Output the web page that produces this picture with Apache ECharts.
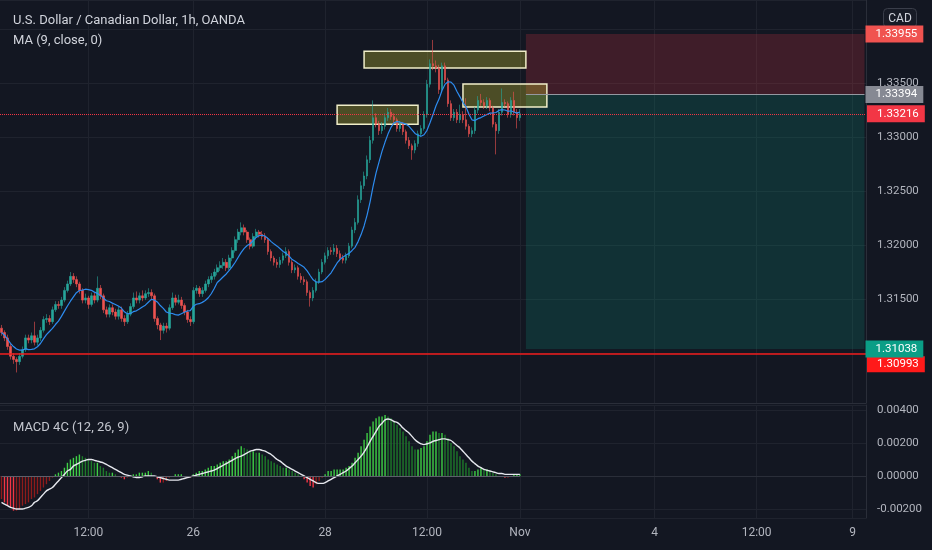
<!DOCTYPE html>
<html><head><meta charset="utf-8">
<script src="https://cdn.jsdelivr.net/npm/echarts@6/dist/echarts.min.js"></script>
<style>html,body{margin:0;padding:0;background:#131722;}#c{width:932px;height:550px;}</style>
</head><body><div id="c"></div>
<script>
// ---- data (hourly bars, USD/CAD) ----
const totalBars = 289;
const timeLabelBars = [29, 64, 108, 142, 173, 218, 252, 284];
const timeLabelTexts = ['12:00', '26', '28', '12:00', 'Nov', '4', '12:00', '9'];

const openP = [
1.3123,1.3119,1.3114,1.3106,1.3097,1.3094,1.3092,1.3097,1.3103,1.3114,
1.3112,1.3116,1.3110,1.3114,1.3121,1.3131,1.3132,1.3129,1.3140,1.3145,
1.3144,1.3149,1.3158,1.3164,1.3171,1.3168,1.3164,1.3158,1.3149,1.3151,
1.3145,1.3153,1.3149,1.3160,1.3153,1.3140,1.3136,1.3142,1.3138,1.3134,
1.3140,1.3132,1.3129,1.3136,1.3143,1.3151,1.3149,1.3153,1.3151,1.3155,
1.3156,1.3153,1.3132,1.3126,1.3121,1.3125,1.3123,1.3142,1.3151,1.3147,
1.3149,1.3144,1.3138,1.3131,1.3129,1.3158,1.3160,1.3155,1.3158,1.3164,
1.3168,1.3171,1.3175,1.3179,1.3181,1.3184,1.3179,1.3188,1.3195,1.3205,
1.3212,1.3216,1.3212,1.3205,1.3199,1.3208,1.3212,1.3210,1.3208,1.3205,
1.3194,1.3188,1.3184,1.3182,1.3186,1.3190,1.3194,1.3184,1.3177,1.3179,
1.3171,1.3168,1.3166,1.3156,1.3151,1.3158,1.3166,1.3175,1.3184,1.3190,
1.3195,1.3194,1.3197,1.3192,1.3188,1.3186,1.3190,1.3199,1.3214,1.3221,
1.3242,1.3255,1.3264,1.3279,1.3297,1.3318,1.3312,1.3306,1.3310,1.3318,
1.3323,1.3319,1.3316,1.3308,1.3312,1.3305,1.3297,1.3292,1.3288,1.3294,
1.3303,1.3308,1.3321,1.3349,1.3368,1.3366,1.3364,1.3344,1.3366,1.3353,
1.3331,1.3318,1.3323,1.3316,1.3321,1.3316,1.3310,1.3303,1.3306,1.3325,
1.3334,1.3332,1.3329,1.3334,1.3327,1.3312,1.3306,1.3323,1.3332,1.3331,
1.3321,1.3334,1.3323,1.3318];

const closeP = [
1.3119,1.3114,1.3106,1.3097,1.3094,1.3092,1.3097,1.3103,1.3114,1.3112,
1.3116,1.3110,1.3114,1.3121,1.3131,1.3132,1.3129,1.3140,1.3145,1.3144,
1.3149,1.3158,1.3164,1.3171,1.3168,1.3164,1.3158,1.3149,1.3151,1.3145,
1.3153,1.3149,1.3160,1.3153,1.3140,1.3136,1.3142,1.3138,1.3134,1.3140,
1.3132,1.3129,1.3136,1.3143,1.3151,1.3149,1.3153,1.3151,1.3155,1.3156,
1.3153,1.3132,1.3126,1.3121,1.3125,1.3123,1.3142,1.3151,1.3147,1.3149,
1.3144,1.3138,1.3131,1.3129,1.3158,1.3160,1.3155,1.3158,1.3164,1.3168,
1.3171,1.3175,1.3179,1.3181,1.3184,1.3179,1.3188,1.3195,1.3205,1.3212,
1.3216,1.3212,1.3205,1.3199,1.3208,1.3212,1.3210,1.3208,1.3205,1.3194,
1.3188,1.3184,1.3182,1.3186,1.3190,1.3194,1.3184,1.3177,1.3179,1.3171,
1.3168,1.3166,1.3156,1.3151,1.3158,1.3166,1.3175,1.3184,1.3190,1.3195,
1.3194,1.3197,1.3192,1.3188,1.3186,1.3190,1.3199,1.3214,1.3221,1.3242,
1.3255,1.3264,1.3279,1.3297,1.3318,1.3312,1.3306,1.3310,1.3318,1.3323,
1.3319,1.3316,1.3308,1.3312,1.3305,1.3297,1.3292,1.3288,1.3294,1.3303,
1.3308,1.3321,1.3349,1.3368,1.3366,1.3364,1.3344,1.3366,1.3353,1.3331,
1.3318,1.3323,1.3316,1.3321,1.3316,1.3310,1.3303,1.3306,1.3325,1.3334,
1.3332,1.3329,1.3334,1.3327,1.3312,1.3306,1.3323,1.3332,1.3331,1.3321,
1.3334,1.3323,1.3318,1.33216];

const highP = [
1.3126,1.3121,1.3117,1.3109,1.3100,1.3096,1.3100,1.3106,1.3117,1.3117,
1.3119,1.3129,1.3117,1.3124,1.3134,1.3136,1.3135,1.3143,1.3148,1.3148,
1.3152,1.3161,1.3167,1.3175,1.3174,1.3171,1.3166,1.3160,1.3155,1.3153,
1.3156,1.3156,1.3171,1.3163,1.3155,1.3143,1.3145,1.3145,1.3141,1.3143,
1.3143,1.3135,1.3139,1.3146,1.3156,1.3157,1.3156,1.3158,1.3158,1.3160,
1.3159,1.3155,1.3134,1.3128,1.3128,1.3128,1.3145,1.3156,1.3154,1.3154,
1.3152,1.3146,1.3140,1.3134,1.3161,1.3163,1.3162,1.3161,1.3167,1.3171,
1.3174,1.3178,1.3182,1.3185,1.3188,1.3187,1.3191,1.3198,1.3208,1.3215,
1.3221,1.3219,1.3214,1.3207,1.3211,1.3215,1.3214,1.3213,1.3211,1.3207,
1.3196,1.3190,1.3187,1.3189,1.3193,1.3198,1.3196,1.3186,1.3182,1.3181,
1.3174,1.3171,1.3168,1.3158,1.3161,1.3169,1.3178,1.3187,1.3193,1.3198,
1.3198,1.3201,1.3200,1.3195,1.3191,1.3193,1.3202,1.3217,1.3225,1.3246,
1.3259,1.3268,1.3283,1.3301,1.3334,1.3322,1.3315,1.3314,1.3322,1.3327,
1.3326,1.3322,1.3318,1.3315,1.3314,1.3307,1.3300,1.3294,1.3297,1.3306,
1.3311,1.3324,1.3353,1.3372,1.3390,1.3371,1.3367,1.3369,1.3369,1.3355,
1.3334,1.3326,1.3326,1.3330,1.3324,1.3336,1.3312,1.3309,1.3328,1.3338,
1.3340,1.3335,1.3337,1.3336,1.3329,1.3314,1.3326,1.3345,1.3335,1.3333,
1.3337,1.3342,1.3326,1.3326];

const lowP = [
1.3116,1.3111,1.3103,1.3094,1.3090,1.3082,1.3089,1.3095,1.3101,1.3109,
1.3109,1.3107,1.3107,1.3111,1.3119,1.3128,1.3126,1.3127,1.3138,1.3141,
1.3141,1.3147,1.3156,1.3162,1.3165,1.3161,1.3155,1.3146,1.3146,1.3141,
1.3143,1.3146,1.3147,1.3150,1.3137,1.3133,1.3133,1.3135,1.3131,1.3131,
1.3129,1.3125,1.3127,1.3134,1.3141,1.3146,1.3146,1.3148,1.3149,1.3152,
1.3150,1.3129,1.3122,1.3112,1.3118,1.3119,1.3121,1.3140,1.3144,1.3145,
1.3141,1.3135,1.3128,1.3125,1.3127,1.3155,1.3152,1.3152,1.3156,1.3161,
1.3165,1.3168,1.3172,1.3176,1.3178,1.3176,1.3177,1.3185,1.3193,1.3202,
1.3209,1.3209,1.3202,1.3196,1.3197,1.3205,1.3207,1.3205,1.3202,1.3191,
1.3185,1.3181,1.3179,1.3179,1.3183,1.3188,1.3181,1.3174,1.3174,1.3168,
1.3165,1.3163,1.3153,1.3143,1.3148,1.3156,1.3164,1.3173,1.3182,1.3187,
1.3191,1.3191,1.3189,1.3185,1.3183,1.3183,1.3188,1.3197,1.3211,1.3219,
1.3239,1.3252,1.3261,1.3276,1.3294,1.3309,1.3302,1.3303,1.3307,1.3315,
1.3316,1.3313,1.3305,1.3305,1.3302,1.3294,1.3289,1.3279,1.3285,1.3291,
1.3300,1.3306,1.3318,1.3346,1.3362,1.3360,1.3340,1.3341,1.3350,1.3328,
1.3315,1.3315,1.3313,1.3313,1.3313,1.3307,1.3300,1.3300,1.3303,1.3322,
1.3329,1.3326,1.3326,1.3324,1.3309,1.3284,1.3303,1.3320,1.3328,1.3318,
1.3318,1.3320,1.3308,1.3315];

const macdHist = [
-0.0014,-0.0016,-0.0018,-0.0019,-0.0021,-0.0021,-0.0020,-0.0018,-0.0017,-0.0016,
-0.0014,-0.0013,-0.0011,-0.0009,-0.0007,-0.0005,-0.0003,-0.0001,0.0001,0.0002,
0.0003,0.0005,0.0008,0.0010,0.0011,0.0012,0.0013,0.0012,0.0011,0.0010,
0.0009,0.0008,0.0008,0.0006,0.0005,0.0003,0.0002,0.0002,0.0001,0.0000,
-0.0001,-0.0002,-0.0001,0.0000,0.0001,0.0001,0.0002,0.0002,0.0002,0.0003,
0.0002,0.0000,-0.0002,-0.0004,-0.0004,-0.0003,-0.0001,0.0000,0.0001,0.0001,
0.0001,0.0000,-0.0001,-0.0001,0.0001,0.0002,0.0003,0.0003,0.0004,0.0005,
0.0006,0.0006,0.0007,0.0008,0.0009,0.0009,0.0010,0.0012,0.0014,0.0016,
0.0018,0.0017,0.0016,0.0015,0.0015,0.0014,0.0014,0.0013,0.0012,0.0010,
0.0009,0.0008,0.0007,0.0006,0.0005,0.0005,0.0004,0.0003,0.0002,0.0001,
0.0000,-0.0002,-0.0004,-0.0006,-0.0007,-0.0005,-0.0003,-0.0001,0.0001,0.0003,
0.0003,0.0004,0.0004,0.0004,0.0004,0.0005,0.0006,0.0008,0.0011,0.0014,
0.0018,0.0022,0.0026,0.0030,0.0033,0.0035,0.0036,0.0036,0.0037,0.0036,
0.0035,0.0033,0.0031,0.0029,0.0027,0.0024,0.0021,0.0018,0.0016,0.0016,
0.0017,0.0018,0.0021,0.0025,0.0027,0.0027,0.0026,0.0026,0.0025,0.0023,
0.0020,0.0018,0.0015,0.0012,0.0010,0.0008,0.0005,0.0003,0.0003,0.0004,
0.0005,0.0004,0.0004,0.0003,0.0002,0.0001,0.0000,0.0000,-0.0001,-0.0001,
0.0000,0.0001,0.0001,0.0001];

const macdSignal = [
-0.0016,-0.0017,-0.0018,-0.0019,-0.00195,-0.0020,-0.0020,-0.0020,-0.00195,-0.0019,
-0.0018,-0.0016,-0.0015,-0.0013,-0.0011,-0.0009,-0.0008,-0.0007,-0.0005,-0.0003,
-0.0001,0.0001,0.0003,0.0004,0.0006,0.0007,0.0008,0.0009,0.00095,0.0010,
0.0010,0.00095,0.0009,0.00085,0.0008,0.0007,0.0006,0.0005,0.0004,0.0003,
0.0002,0.0001,0.00005,0.0000,-0.00005,-0.0001,-0.0001,-0.00005,0.0000,0.0000,
0.0000,0.0000,-0.00005,-0.0001,-0.00015,-0.0002,-0.00025,-0.00025,-0.00025,-0.00025,
-0.0002,-0.00015,-0.0001,-0.00005,0.0000,0.00005,0.0001,0.00015,0.0002,0.00025,
0.0003,0.00035,0.00045,0.00055,0.00065,0.00075,0.00085,0.00095,0.00105,0.00115,
0.0012,0.0013,0.0014,0.0015,0.00155,0.0016,0.0016,0.00155,0.0015,0.0014,
0.0013,0.00115,0.0010,0.0009,0.00075,0.0006,0.0005,0.0004,0.0003,0.0002,
0.0001,0.0000,-0.0001,-0.0002,-0.0003,-0.0004,-0.00045,-0.00045,-0.0004,-0.0003,
-0.0002,-0.0001,0.0000,0.0001,0.0002,0.0003,0.00045,0.0006,0.0008,0.0010,
0.0012,0.00145,0.00175,0.0021,0.0024,0.0027,0.0030,0.0032,0.0034,0.00345,
0.0034,0.0033,0.00325,0.0031,0.0029,0.00275,0.0026,0.0024,0.0022,0.00205,
0.00195,0.0019,0.00195,0.0020,0.0021,0.00215,0.0022,0.00225,0.00225,0.0022,
0.00215,0.0020,0.00185,0.0017,0.0015,0.0013,0.0011,0.0009,0.00075,0.0006,
0.0005,0.0004,0.00035,0.0003,0.00025,0.0002,0.00015,0.00015,0.0001,0.0001,
0.0001,0.0001,0.0001,0.0001];

// price levels / drawings
const stopPrice = 1.33955;
const entryPrice = 1.33394;
const lastPrice = 1.33216;
const targetPrice = 1.31038;
const supportPrice = 1.30993;
const positionStartBar = 175;
const boxStartBars = [112, 121, 154];
const boxEndBars   = [139, 175, 182];
const boxTops      = [1.33296, 1.33796, 1.33491];
const boxBottoms   = [1.33120, 1.33639, 1.33278];

// ---- build ----
const lastBar = totalBars - 1;
const cats = Array.from({length: totalBars}, (_, i) => {
  const k = timeLabelBars.indexOf(i);
  return k >= 0 ? timeLabelTexts[k] : '';
});
const ohlc = closeP.map((c, i) => [openP[i], c, lowP[i], highP[i]]);
const ma9 = closeP.map((_, i) => {
  const w = closeP.slice(Math.max(0, i - 8), i + 1);
  return +(w.reduce((a, b) => a + b, 0) / w.length).toFixed(5);
});
const histData = macdHist.map((v, i) => {
  const prev = i > 0 ? macdHist[i - 1] : v;
  let col;
  if (v >= 0) col = v >= prev ? '#3fcf45' : '#1e7a2a';
  else col = v < prev ? '#f23645' : '#8e1b1b';
  return {value: v, itemStyle: {color: col}};
});

const FONT = 'Roboto';
const gridLine = '#1f232e';
const tag = (bg, price) => ({
  show: true, position: 'end', distance: 1,
  formatter: price.toFixed(5),
  color: '#ffffff', fontSize: 11.5, fontFamily: FONT,
  backgroundColor: bg, padding: [2, 6, 2, 10], lineHeight: 13
});
// tag pushed just below its line (so it does not collide with the tag above)
const tagBelow = (bg, price) => ({
  show: true, position: 'end', distance: 1, verticalAlign: 'top',
  formatter: '{s| }\n{v|' + price.toFixed(5) + '}',
  rich: {
    s: {fontSize: 1, height: 4, lineHeight: 4},
    v: {color: '#ffffff', fontSize: 11.5, fontFamily: FONT, backgroundColor: bg,
        padding: [2, 6, 2, 10], lineHeight: 13}
  }
});
const isLabel = (i, v) => v !== '';
const hidden = {color: 'rgba(0,0,0,0)', width: 0};
const segment = (price, ls, bg) => [
  {coord: [positionStartBar, price], lineStyle: ls, label: tag(bg, price)},
  {coord: [lastBar, price], lineStyle: ls, label: tag(bg, price)}
];

const chart = echarts.init(document.getElementById('c'));
chart.setOption({
  backgroundColor: '#131722',
  animation: false,
  textStyle: {fontFamily: FONT},
  title: [
    {text: 'U.S. Dollar / Canadian Dollar, 1h, OANDA', left: 8, top: 9,
     textStyle: {color: '#d1d4dc', fontSize: 13, fontWeight: 'normal', fontFamily: FONT}},
    {text: 'MA (9, close, 0)', left: 8, top: 29,
     textStyle: {color: '#d1d4dc', fontSize: 13, fontWeight: 'normal', fontFamily: FONT}},
    {text: 'MACD 4C (12, 26, 9)', left: 8, top: 416,
     textStyle: {color: '#c3c6ce', fontSize: 13, fontWeight: 'normal', fontFamily: FONT}}
  ],
  graphic: [{
    type: 'group', left: 883, top: 8,
    children: [
      {type: 'rect', shape: {x: 0, y: 0, width: 33, height: 19, r: 4},
       style: {fill: '#171b26', stroke: '#3a3e4a', lineWidth: 1}},
      {type: 'text', x: 16.5, y: 10,
       style: {text: 'CAD', fill: '#d1d4dc', font: '12px Roboto', align: 'center', verticalAlign: 'middle'}}
    ]
  }],
  grid: [
    {left: 0, right: 66, top: 0, height: 403, outerBoundsMode: 'none'},
    {left: 0, right: 66, top: 405, height: 113, outerBoundsMode: 'none'}
  ],
  xAxis: [
    {type: 'category', gridIndex: 0, data: cats, boundaryGap: true,
     axisLine: {show: true, lineStyle: {color: '#2a2e39'}}, axisTick: {show: false},
     axisLabel: {show: false},
     splitLine: {show: true, interval: isLabel, alignWithLabel: true, lineStyle: {color: gridLine}}},
    {type: 'category', gridIndex: 1, data: cats, boundaryGap: true,
     axisLine: {show: true, lineStyle: {color: '#2a2e39'}}, axisTick: {show: false},
     axisLabel: {show: true, interval: 0, color: '#b2b5be', fontSize: 12, fontFamily: FONT, margin: 9},
     splitLine: {show: true, interval: isLabel, alignWithLabel: true, lineStyle: {color: gridLine}}}
  ],
  yAxis: [
    {type: 'value', gridIndex: 0, position: 'right', scale: true,
     min: 1.30537, max: 1.3427, splitNumber: 8,
     axisLine: {show: true, lineStyle: {color: '#2a2e39'}}, axisTick: {show: false},
     axisLabel: {color: '#b2b5be', fontSize: 11.5, fontFamily: FONT, margin: 11,
       showMinLabel: false, showMaxLabel: false,
       formatter: (v) => (Math.abs(v - 1.31) < 1e-7 || Math.abs(v - 1.34) < 1e-7) ? '' : v.toFixed(5)},
     splitLine: {show: true, lineStyle: {color: gridLine}}},
    {type: 'value', gridIndex: 1, position: 'right',
     min: -0.002545, max: 0.0043, splitNumber: 3,
     axisLine: {show: true, lineStyle: {color: '#2a2e39'}}, axisTick: {show: false},
     axisLabel: {color: '#b2b5be', fontSize: 11.5, fontFamily: FONT, margin: 11,
       showMinLabel: false, showMaxLabel: false, formatter: (v) => v.toFixed(5)},
     splitLine: {show: true, lineStyle: {color: gridLine}}}
  ],
  series: [
    {
      name: 'USDCAD', type: 'candlestick', xAxisIndex: 0, yAxisIndex: 0, z: 3,
      data: ohlc, barWidth: 2.1,
      itemStyle: {color: '#26a69a', color0: '#ef5350', borderColor: '#26a69a', borderColor0: '#ef5350', borderWidth: 0.6},
      markArea: {
        silent: true,
        data: [
          [{xAxis: positionStartBar, yAxis: stopPrice, itemStyle: {color: 'rgba(242,54,69,0.2)'}},
           {xAxis: lastBar, yAxis: entryPrice}],
          [{xAxis: positionStartBar, yAxis: entryPrice, itemStyle: {color: 'rgba(8,153,129,0.2)'}},
           {xAxis: lastBar, yAxis: targetPrice}]
        ]
      },
      markLine: {
        silent: true, symbol: ['none', 'none'], animation: false, precision: 5,
        data: [
          {yAxis: lastPrice, lineStyle: {color: '#f23645', type: 'dotted', width: 1}, label: tag('#f23645', lastPrice)},
          {yAxis: supportPrice, lineStyle: {color: '#f21c1c', type: 'solid', width: 1.6}, label: tagBelow('#ff1a1a', supportPrice)},
          segment(entryPrice, {color: '#9598a1', width: 1, type: 'solid'}, '#868993'),
          segment(stopPrice, hidden, '#f05350'),
          segment(targetPrice, hidden, '#0a9e86')
        ]
      }
    },
    {
      name: 'MA 9', type: 'line', xAxisIndex: 0, yAxisIndex: 0, z: 4,
      data: ma9, showSymbol: false, symbol: 'none',
      lineStyle: {color: '#2d8cf0', width: 1.2}
    },
    {
      name: 'boxes', type: 'line', xAxisIndex: 0, yAxisIndex: 0, z: 6, data: [],
      markArea: {
        silent: true,
        itemStyle: {color: 'rgba(240,230,50,0.26)', borderColor: '#efedc8', borderWidth: 1.5},
        data: boxStartBars.map((s, k) => [
          {xAxis: s, yAxis: boxTops[k]},
          {xAxis: boxEndBars[k], yAxis: boxBottoms[k]}
        ])
      }
    },
    {
      name: 'MACD', type: 'bar', xAxisIndex: 1, yAxisIndex: 1, z: 3,
      data: histData, barWidth: 1.4,
      markLine: {
        silent: true, symbol: ['none', 'none'], label: {show: false},
        lineStyle: {color: '#5d606b', width: 1, type: 'solid'},
        data: [[{coord: [0, 0]}, {coord: [closeP.length - 1, 0]}]]
      }
    },
    {
      name: 'Signal', type: 'line', xAxisIndex: 1, yAxisIndex: 1, z: 4,
      data: macdSignal, showSymbol: false, symbol: 'none', smooth: 0.4,
      lineStyle: {color: '#e6e8ee', width: 1.4}
    }
  ]
});
</script>
</body></html>
